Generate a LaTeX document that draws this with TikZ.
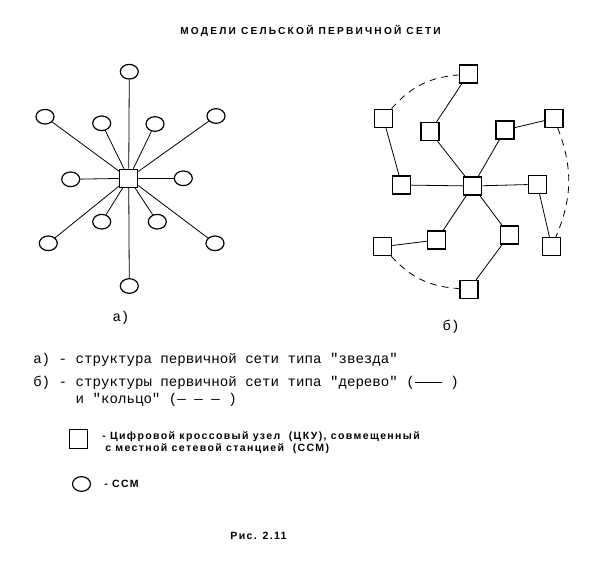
\documentclass[tikz,border=0pt]{standalone}
\usepackage{fontspec}
\usetikzlibrary{shapes.geometric}
\newfontfamily\monofont{Liberation Mono}
\newfontfamily\boldfont[LetterSpace=13]{Liberation Sans}
\newfontfamily\titlefont[LetterSpace=22]{Liberation Sans}
\begin{document}
\begin{tikzpicture}[x=0.75pt,y=-0.75pt,
    ckn/.style={draw,line width=0.9pt,minimum size=13.5pt,inner sep=0pt},
    ssm/.style={draw,ellipse,line width=0.9pt,minimum width=13.5pt,minimum height=11pt,inner sep=0pt},
    link/.style={line width=0.6pt},
    ring/.style={line width=0.6pt,dash pattern=on 5pt off 4pt},
    mono/.style={font=\monofont\fontsize{10.6pt}{12pt}\selectfont,inner sep=0pt,anchor=west},
    bold/.style={font=\boldfont\bfseries\fontsize{7.9pt}{9pt}\selectfont,inner sep=0pt}]
    \useasboundingbox (0,0) rectangle (604,571);
    \node[font=\titlefont\bfseries\fontsize{7.6pt}{9pt}\selectfont] (title) at (310.5,31) {МОДЕЛИ СЕЛЬСКОЙ ПЕРВИЧНОЙ СЕТИ};
    % a) star: hub with SSM around it
    \node[ckn] (hub) at (128.7,178.3) {};
    \foreach \x/\y [count=\i] in {129.3/71.7, 45/116.7, 101.7/123.3, 155/124, 216/116,
        70.7/179.3, 183.3/178.3, 48.3/243.3, 101.7/221.7, 157.3/221.7, 215/243.3, 129.3/286} {
        \node[ssm] (s\i) at (\x,\y) {};
        \draw[link] (hub) -- (s\i);
    }
    \node[mono,anchor=center] (capa) at (121,318) {а)};
    % b) tree (solid) and rings (dashed)
    \node[ckn] (c) at (472.7,186) {};
    \foreach \n/\x/\y in {t/468.3/74, ul/383.3/118.3, iul/430/131.7, iur/505/130, ur/554/118.3,
        l/401.7/185, r/537.3/184.3, ll/382.7/246.7, ill/436.7/240, ilr/509.3/235, lr/551.7/246.7, b/469/289.3}
        \node[ckn] (\n) at (\x,\y) {};
    \foreach \a/\b in {c/l, c/r, c/iul, c/iur, c/ill, c/ilr, iul/t, iur/ur, l/ul, r/lr, ill/ll, ilr/b}
        \draw[link] (\a) -- (\b);
    \draw[ring] (ul) to[bend left=22] (t);
    \draw[ring] (ur) to[bend left=22] (lr);
    \draw[ring] (ll) to[bend right=22] (b);
    \node[mono,anchor=center] (capb) at (451,327) {б)};
    % legend
    \node[mono] (la) at (33,360) {а) - структура первичной сети типа "звезда"};
    \node[mono] (lb) at (33,383) {б) - структуры первичной сети типа "дерево" (\rule[0.3em]{1.9em}{0.5pt} )};
    \node[mono] (lc) at (75.4,400) {и "кольцо" (— — — )};
    \node[ckn,minimum size=14pt] (keyc) at (78.5,439) {};
    \node[bold,anchor=west] (keyct) at (102,437) {- Цифровой кроссовый узел\ \ (ЦКУ), совмещенный};
    \node[bold,anchor=west] (keyct2) at (105,449) {с местной сетевой станцией\ \ (ССМ)};
    \node[ssm] (keys) at (81.5,484) {};
    \node[bold,anchor=west] (keyst) at (104,484) {- ССМ};
    \node[bold] (fig) at (258.5,536) {Рис. 2.11};
\end{tikzpicture}
\end{document}
